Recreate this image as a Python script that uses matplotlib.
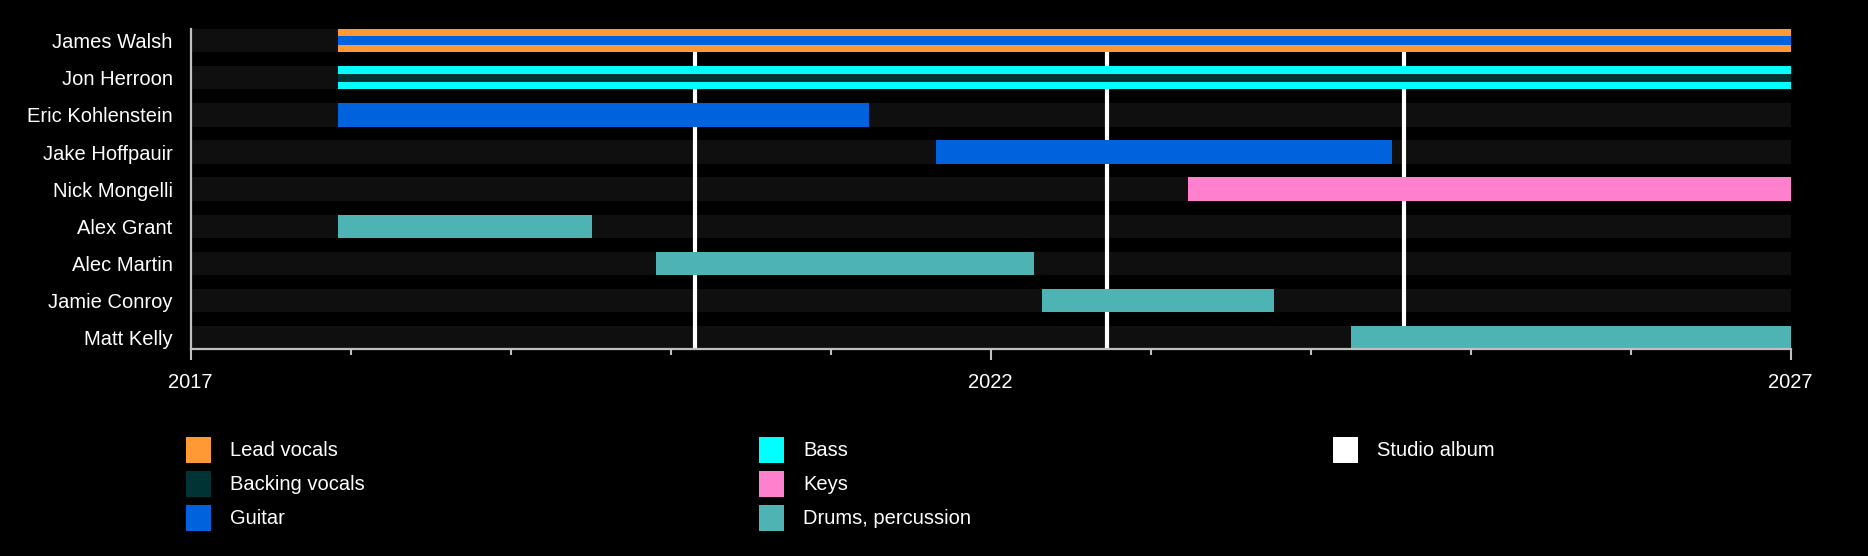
import matplotlib
matplotlib.use("Agg")
import matplotlib.pyplot as plt
from matplotlib.patches import Rectangle

plt.rcParams['font.family'] = ['Liberation Sans', 'DejaVu Sans']

# band members, top to bottom
members = ['James Walsh', 'Jon Herroon', 'Eric Kohlenstein', 'Jake Hoffpauir',
           'Nick Mongelli', 'Alex Grant', 'Alec Martin', 'Jamie Conroy', 'Matt Kelly']
main_role = ['Lead vocals', 'Bass', 'Guitar', 'Guitar', 'Keys',
             'Drums, percussion', 'Drums, percussion', 'Drums, percussion', 'Drums, percussion']
main_start = [2017.92, 2017.92, 2017.92, 2021.66, 2023.23, 2017.92, 2019.91, 2022.32, 2024.25]
main_end = [2027.0, 2027.0, 2021.24, 2024.51, 2027.0, 2019.51, 2022.27, 2023.77, 2027.0]

# secondary roles drawn as a thin bar inside the main one
extra_member = ['James Walsh', 'Jon Herroon']
extra_role = ['Guitar', 'Backing vocals']
extra_start = [2017.92, 2017.92]
extra_end = [2027.0, 2027.0]

albums = [2020.15, 2022.725, 2024.58]

roles = ['Lead vocals', 'Backing vocals', 'Guitar', 'Bass', 'Keys', 'Drums, percussion', 'Studio album']
role_colors = ['#ff9933', '#003333', '#0062dc', '#00ffff', '#ff80cc', '#4db3b3', '#ffffff']
colors = dict(zip(roles, role_colors))

start_year, end_year = 2017, 2027
major_years = [2017, 2022, 2027]
minor_years = list(range(2017, 2028))

W, H = 1868, 556
fig = plt.figure(figsize=(W / 100, H / 100), dpi=100, facecolor='black')
ax = fig.add_axes([190.7 / W, 1 - 349.3 / H, 1600 / W, 320.3 / H])
ax.set_facecolor('black')

bar_h = 0.63
rows = list(range(len(members)))

# dark background band for every row
ax.barh(rows, end_year - start_year, left=start_year, height=bar_h,
        color='#0f0f0f', zorder=1)

for x in albums:
    ax.axvline(x, color=colors['Studio album'], lw=3, zorder=2)

for i, m in enumerate(members):
    ax.barh(i, main_end[i] - main_start[i], left=main_start[i], height=bar_h,
            color=colors[main_role[i]], zorder=3)

for m, r, s, e in zip(extra_member, extra_role, extra_start, extra_end):
    i = members.index(m)
    ax.barh(i, e - s, left=s, height=bar_h * 0.36,
            color=colors[r], zorder=4)

ax.set_xlim(start_year, end_year)
ax.set_ylim(len(members) - 1 + bar_h / 2, -bar_h / 2)
ax.set_yticks(rows)
ax.set_yticklabels(members)
ax.set_xticks(major_years)
ax.set_xticks(minor_years, minor=True)

for s in ['top', 'right']:
    ax.spines[s].set_visible(False)
for s in ['left', 'bottom']:
    ax.spines[s].set_color('#c0c0c0')
    ax.spines[s].set_linewidth(1.6)
    ax.spines[s].set_zorder(5)

ax.tick_params(axis='y', length=0, pad=13, labelsize=14.5, labelcolor='white')
ax.tick_params(axis='x', which='major', length=8, width=1.5, color='#c0c0c0',
               pad=9, labelsize=14.5, labelcolor='white')
ax.tick_params(axis='x', which='minor', length=4.5, width=1.5, color='#c0c0c0')

# legend: three columns of coloured squares
legend_cols = [['Lead vocals', 'Backing vocals', 'Guitar'],
               ['Bass', 'Keys', 'Drums, percussion'],
               ['Studio album']]
col_x = [186, 759, 1333]
row_y = [450, 484, 518]
for cx, items in zip(col_x, legend_cols):
    for ry, name in zip(row_y, items):
        fig.add_artist(Rectangle((cx / W, 1 - (ry + 13) / H), 25 / W, 26 / H,
                                 transform=fig.transFigure, facecolor=colors[name],
                                 edgecolor='none'))
        fig.text((cx + 44) / W, 1 - ry / H, name, color='white', fontsize=14.5,
                 va='center', ha='left')

fig.savefig('out.png', dpi=100, facecolor='black')
